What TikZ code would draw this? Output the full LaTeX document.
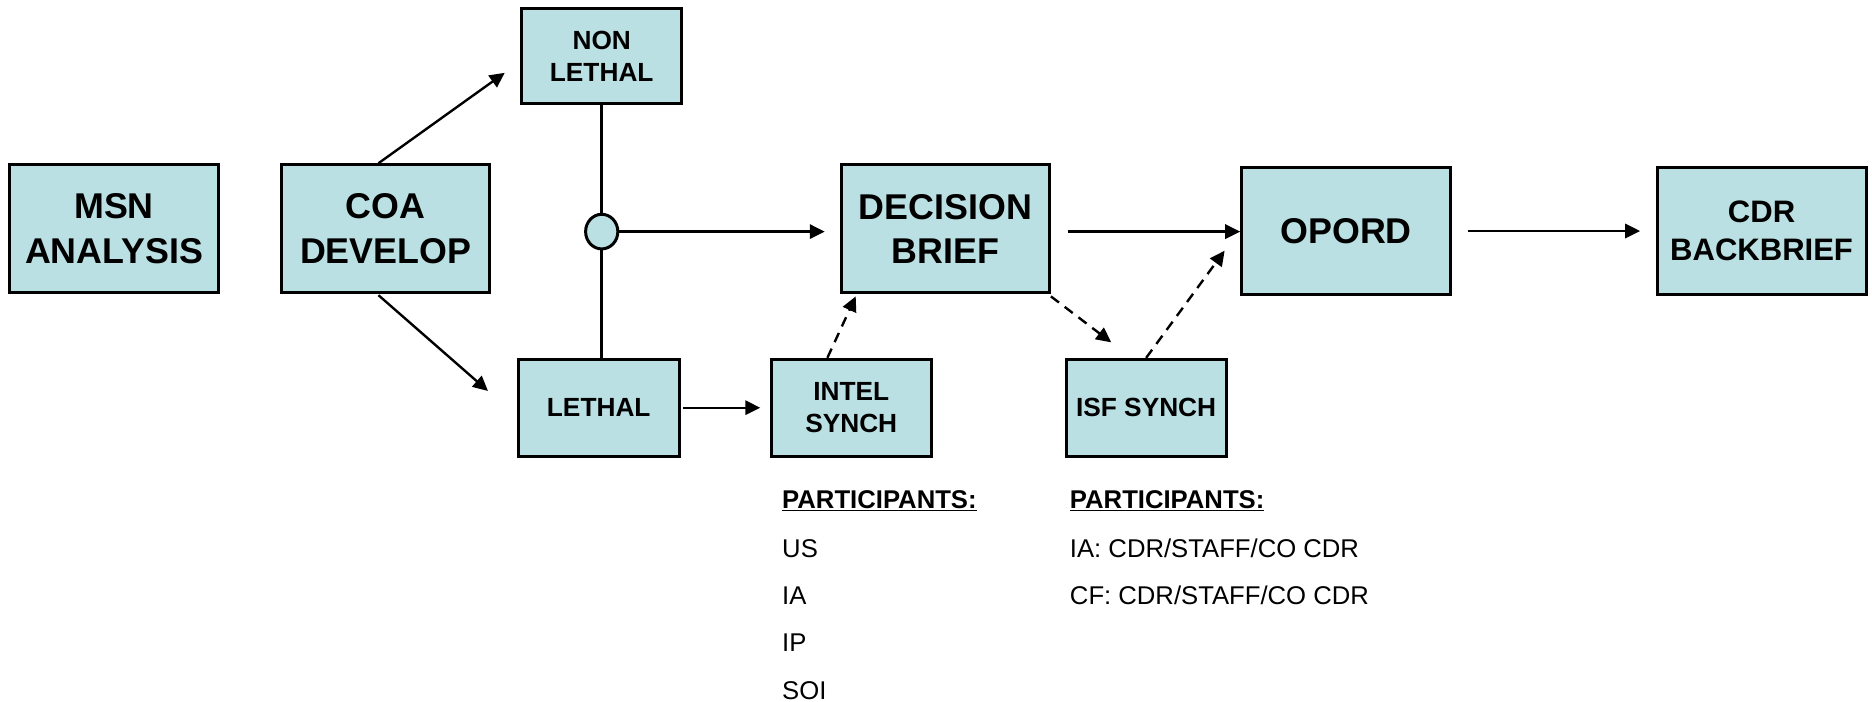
\documentclass[tikz,border=0pt]{standalone}
\usepackage{fontspec}
\setmainfont{Liberation Sans}
\usetikzlibrary{arrows.meta,calc,shapes.geometric}
\definecolor{boxfill}{RGB}{186,224,227}
\tikzset{
  box/.style={draw=black, line width=2.5pt, fill=boxfill, align=center, inner sep=0pt, font=\bfseries},
  bigtxt/.style={font=\bfseries\fontsize{30}{37}\selectfont},
  midtxt/.style={font=\bfseries\fontsize{26}{32}\selectfont},
  smalltxt/.style={font=\bfseries\fontsize{22}{27}\selectfont},
  arr/.style={line width=2pt, -{Triangle[length=12.5pt,width=12pt]}},
  darr/.style={line width=2pt, dash pattern=on 8.5pt off 6pt, -{Triangle[length=12.5pt,width=12pt]}},
  plain/.style={line width=2.6pt},
  ptxt/.style={anchor=base west, inner sep=0pt, font=\fontsize{21.5}{26}\selectfont},
  phead/.style={anchor=base west, inner sep=0pt, font=\bfseries\fontsize{21.5}{26}\selectfont}
}
\begin{document}
\begin{tikzpicture}[x=1pt,y=-1pt]
\useasboundingbox (0,0) rectangle (1568,588);
% boxes
\node[box, bigtxt, minimum width=175pt, minimum height=107pt] (msn) at (95.5,191.5) {MSN\\ANALYSIS};
\node[box, bigtxt, minimum width=174pt, minimum height=107pt] (coa) at (323,191.5) {COA\\DEVELOP};
\node[box, smalltxt, minimum width=134pt, minimum height=80pt] (nonl) at (504,47) {NON\\LETHAL};
\node[box, smalltxt, minimum width=135pt, minimum height=81pt] (leth) at (501.5,341.5) {LETHAL};
\node[box, smalltxt, minimum width=134pt, minimum height=81pt] (intel) at (713,341.5) {INTEL\\SYNCH};
\node[box, bigtxt, minimum width=174pt, minimum height=107pt] (dec) at (792,191.5) {DECISION\\BRIEF};
\node[box, smalltxt, minimum width=134pt, minimum height=81pt] (isf) at (960,341.5) {ISF SYNCH};
\node[box, bigtxt, minimum width=175pt, minimum height=107pt] (opord) at (1127.5,193.5) {OPORD};
\node[box, midtxt, minimum width=175pt, minimum height=107pt] (cdr) at (1475.5,193.5) {CDR\\BACKBRIEF};
% junction circle
\node[draw=black, line width=2.5pt, fill=boxfill, ellipse, minimum width=27pt, minimum height=29pt, inner sep=0pt] (circ) at (504,194) {};
% connectors
\draw[arr] ($(coa.north)+(-6,0)$) -- ($(nonl.west)+(-13,14)$);
\draw[arr] ($(coa.south)+(-6,1)$) -- ($(leth.west)+(-24,-14)$);
\draw[plain] (nonl.south) -- (circ.north);
\draw[plain] (circ.south) -- (circ.south |- leth.north);
\draw[arr] (circ.east) -- ($(circ.east -| dec.west)+(-13,0)$);
\coordinate (dstart) at ($(dec.east)+(14,2.5)$);
\draw[arr] (dstart) -- (dstart -| opord.west);
\draw[arr] ($(opord.east)+(13,0)$) -- ($(cdr.west)+(-13,0)$);
\draw[arr] ($(leth.east)+(2,0)$) -- ($(intel.west)+(-8,0)$);
\draw[darr] ($(intel.north)+(-20,0)$) -- ($(dec.south west)+(13,2)$);
\draw[darr] ($(dec.south east)+(0,2)$) -- ($(isf.north west)+(39,-13)$);
\draw[darr] (isf.north) -- ($(opord.west)+(-13,16.5)$);
% participants
\node[phead] (ph1) at (655,426) {\underline{PARTICIPANTS:}};
\node[ptxt] (p1) at (655,467) {US};
\node[ptxt] (p2) at (655,506) {IA};
\node[ptxt] (p3) at (655,546) {IP};
\node[ptxt] (p4) at (655,586) {SOI};
\node[phead] (ph2) at (896,426) {\underline{PARTICIPANTS:}};
\node[ptxt] (q1) at (896,467) {IA: CDR/STAFF/CO CDR};
\node[ptxt] (q2) at (896,506) {CF: CDR/STAFF/CO CDR};
\end{tikzpicture}
\end{document}
